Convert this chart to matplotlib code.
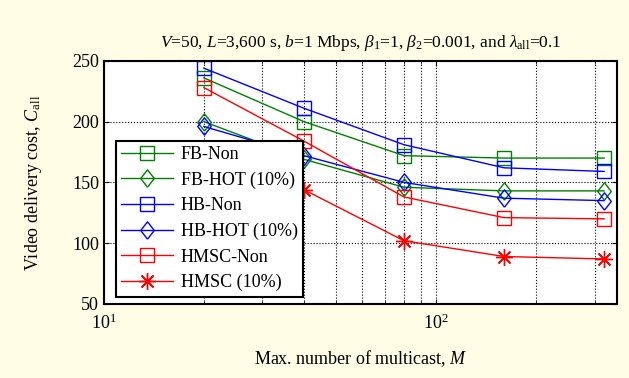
from matplotlib import pyplot as plt
import numpy as np

plt.rcParams['font.family'] = ['Liberation Serif', 'DejaVu Serif']
plt.rcParams['mathtext.fontset'] = 'custom'
plt.rcParams['mathtext.rm'] = 'Liberation Serif'
plt.rcParams['mathtext.it'] = 'Liberation Serif:italic'
plt.rcParams['font.size'] = 13

m_values = [20, 40, 80, 160, 320]
fb_non = [236, 200, 172, 170, 170]
fb_hot = [200, 169, 146, 143, 143]
hb_non = [244, 211, 181, 162, 159]
hb_hot = [196, 172, 150, 137, 135]
hmsc_non = [228, 184, 138, 121, 120]
hmsc_hot = [178, 144, 102, 89, 87]

bg = '#FFFDE6'
green = '#008000'
blue = '#0000FF'
red = '#FF0000'
diamond = [(0, -1), (0.78, 0), (0, 1), (-0.78, 0), (0, -1)]

fig = plt.figure(figsize=(6.29, 3.78), dpi=100, facecolor=bg)
ax = fig.add_axes([0.165, 0.196, 0.816, 0.643])

ax.plot(m_values, fb_non, color=green, lw=1, marker='s', ms=10.5, mfc='none', mec=green, label='FB-Non')
ax.plot(m_values, fb_hot, color=green, lw=1, marker=diamond, ms=12.5, mfc='none', mec=green, label='FB-HOT (10%)')
ax.plot(m_values, hb_non, color=blue, lw=1, marker='s', ms=10.5, mfc='none', mec=blue, label='HB-Non')
ax.plot(m_values, hb_hot, color=blue, lw=1, marker=diamond, ms=12.5, mfc='none', mec=blue, label='HB-HOT (10%)')
ax.plot(m_values, hmsc_non, color=red, lw=1, marker='s', ms=10.5, mfc='none', mec=red, label='HMSC-Non')
ax.plot(m_values, hmsc_hot, color=red, lw=1, marker=(8, 2, 0), ms=12, mfc='none', mec=red, label='HMSC (10%)')

ax.set_xscale('log')
ax.set_xlim(10, 350)
ax.set_ylim(50, 250)
ax.set_yticks([50, 100, 150, 200, 250])
ax.grid(True, which='major', axis='both', color='black', linestyle=':', linewidth=0.8)
ax.grid(True, which='minor', axis='x', color='black', linestyle=':', linewidth=0.8)
ax.tick_params(which='both', direction='in', top=True, right=True)
ax.tick_params(which='minor', labelbottom=False)
ax.tick_params(axis='x', which='major', pad=7)
for s in ax.spines.values():
    s.set_linewidth(1.5)

ax.set_title(r'$V$=50, $L$=3,600 s, $b$=1 Mbps, $\beta_1$=1, $\beta_2$=0.001, and $\lambda_{\rm all}$=0.1',
             fontsize=12.5, pad=10)
ax.set_xlabel(r'Max. number of multicast, $M$', labelpad=11)
ax.set_ylabel(r'Video delivery cost, $C_{\rm all}$', labelpad=20)

leg = ax.legend(loc='lower left', bbox_to_anchor=(0.023, 0.029), borderaxespad=0,
                fancybox=False, edgecolor='black', framealpha=1, handlelength=2.9,
                labelspacing=0.47, borderpad=0.3, handletextpad=0.4)
leg.get_frame().set_linewidth(1.5)

fig.savefig('out.png', dpi=100, facecolor=bg)
